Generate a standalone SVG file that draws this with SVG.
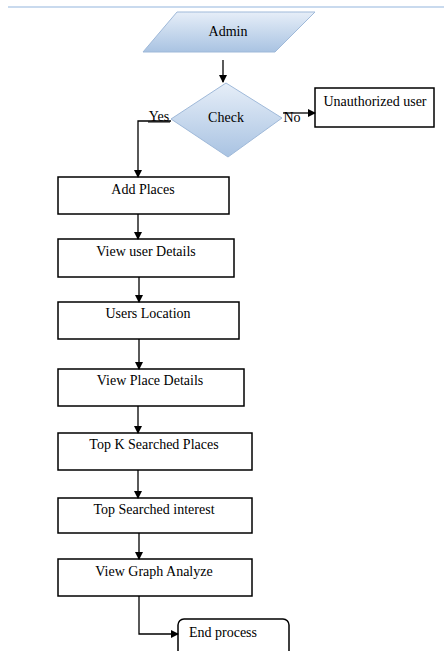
<svg xmlns="http://www.w3.org/2000/svg" width="444" height="651" viewBox="0 0 444 651">
<defs>
<linearGradient id="blue" x1="0" y1="0" x2="0" y2="1">
<stop offset="0" stop-color="#e6eef8"/>
<stop offset="1" stop-color="#a9c3e2"/>
</linearGradient>
<marker id="arr" markerWidth="8" markerHeight="8" refX="7" refY="4" orient="auto" markerUnits="userSpaceOnUse">
<path d="M0,0 L8,4 L0,8 Z" fill="#000"/>
</marker>
</defs>
<style>
.t{font-family:"Liberation Serif","Times New Roman",serif;font-size:14px;fill:#000;text-anchor:middle}
.box{fill:#fff;stroke:#000;stroke-width:1.5}
.sh{fill:url(#blue);stroke:#9fb9d9;stroke-width:1}
.c{fill:none;stroke:#000;stroke-width:1.3}
</style>
<rect width="444" height="651" fill="#fff"/>
<line x1="8" y1="7" x2="444" y2="7" stroke="#c9daee" stroke-width="2"/>
<g id="admin">
<polygon class="sh" points="177,12 315,12 275,52 143,52"/>
<text class="t" x="228" y="36">Admin</text>
</g>
<g id="check">
<polygon class="sh" points="226,83 282,118 228,157 171,119"/>
<text class="t" x="226" y="122">Check</text>
</g>
<g id="unauthorized">
<rect class="box" x="315" y="88" width="119" height="39"/>
<text class="t" x="375" y="106">Unauthorized user</text>
</g>
<g id="addplaces">
<rect class="box" x="58" y="177" width="171" height="37"/>
<text class="t" x="143" y="194">Add Places</text>
</g>
<g id="viewuser">
<rect class="box" x="58" y="239" width="176" height="38"/>
<text class="t" x="146" y="256">View user Details</text>
</g>
<g id="userslocation">
<rect class="box" x="58" y="302" width="181" height="37"/>
<text class="t" x="148" y="318">Users Location</text>
</g>
<g id="viewplace">
<rect class="box" x="58" y="369" width="186" height="37"/>
<text class="t" x="150" y="385">View Place Details</text>
</g>
<g id="topk">
<rect class="box" x="58" y="433" width="194" height="37"/>
<text class="t" x="154" y="449">Top K Searched Places</text>
</g>
<g id="topinterest">
<rect class="box" x="58" y="498" width="194" height="35"/>
<text class="t" x="154" y="514">Top Searched interest</text>
</g>
<g id="viewgraph">
<rect class="box" x="58" y="559" width="194" height="37"/>
<text class="t" x="154" y="576">View Graph Analyze</text>
</g>
<g id="endprocess">
<rect class="box" x="178" y="619" width="111" height="40" rx="6" ry="6"/>
<text class="t" x="223" y="637">End process</text>
</g>
<g id="connectors">
<line class="c" x1="223" y1="60" x2="223" y2="82" marker-end="url(#arr)"/>
<polyline class="c" points="171,121 138,121 138,177" marker-end="url(#arr)"/>
<line class="c" x1="283" y1="113" x2="315" y2="113" marker-end="url(#arr)"/>
<line class="c" x1="138" y1="214" x2="138" y2="239" marker-end="url(#arr)"/>
<line class="c" x1="139" y1="277" x2="139" y2="302" marker-end="url(#arr)"/>
<line class="c" x1="139" y1="339" x2="139" y2="369" marker-end="url(#arr)"/>
<line class="c" x1="138" y1="406" x2="138" y2="433" marker-end="url(#arr)"/>
<line class="c" x1="138" y1="470" x2="138" y2="498" marker-end="url(#arr)"/>
<line class="c" x1="139" y1="533" x2="139" y2="559" marker-end="url(#arr)"/>
<polyline class="c" points="139,596 139,634 178,634" marker-end="url(#arr)"/>
<text class="t" x="159" y="121">Yes</text>
<line x1="148" y1="122" x2="170" y2="122" stroke="#000" stroke-width="1"/>
<text class="t" x="292" y="122">No</text>
</g>
</svg>
